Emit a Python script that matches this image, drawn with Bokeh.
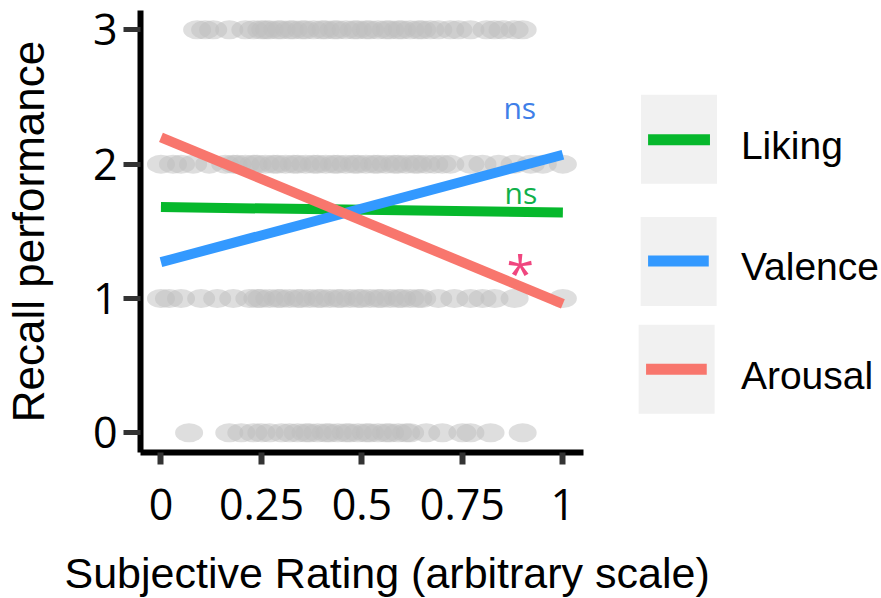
from bokeh.plotting import figure
from bokeh.models import FixedTicker, Range1d, Title
from bokeh.core.properties import value
from bokeh.embed import file_html
from bokeh.resources import INLINE

# ---------------- data ----------------
recall_levels = [3, 2, 1, 0]
rating_recall3 = [0.09, 0.11, 0.13, 0.17, 0.21, 0.23, 0.25, 0.26, 0.27, 0.29, 0.30, 0.32, 0.33,
                  0.35, 0.36, 0.38, 0.40, 0.41, 0.43, 0.44, 0.46, 0.48, 0.49, 0.51, 0.52, 0.54,
                  0.56, 0.57, 0.59, 0.60, 0.62, 0.64, 0.65, 0.67, 0.69, 0.72, 0.74, 0.77, 0.81,
                  0.83, 0.85, 0.88, 0.90]
rating_recall2 = [0.0, 0.03, 0.05, 0.08, 0.12, 0.16, 0.18, 0.19, 0.21, 0.23, 0.24, 0.26, 0.28,
                  0.29, 0.31, 0.33, 0.34, 0.36, 0.38, 0.39, 0.41, 0.43, 0.44, 0.46, 0.48, 0.49,
                  0.51, 0.53, 0.54, 0.56, 0.58, 0.59, 0.61, 0.63, 0.64, 0.66, 0.68, 0.70, 0.72,
                  0.77, 0.80, 0.84, 0.88, 0.92, 0.95, 1.0]
rating_recall1 = [0.0, 0.02, 0.05, 0.10, 0.14, 0.18, 0.22, 0.24, 0.25, 0.27, 0.29, 0.30, 0.32,
                  0.34, 0.35, 0.37, 0.39, 0.40, 0.42, 0.44, 0.45, 0.47, 0.49, 0.50, 0.52, 0.54,
                  0.55, 0.57, 0.59, 0.60, 0.62, 0.64, 0.65, 0.69, 0.73, 0.77, 0.80, 0.83, 0.88,
                  1.0]
rating_recall0 = [0.07, 0.17, 0.20, 0.23, 0.25, 0.27, 0.30, 0.32, 0.34, 0.36, 0.37, 0.39, 0.41,
                  0.42, 0.44, 0.46, 0.47, 0.49, 0.51, 0.52, 0.54, 0.56, 0.57, 0.59, 0.61, 0.62,
                  0.66, 0.70, 0.75, 0.77, 0.82, 0.90]

fit_x = [0.0, 1.0]
liking_fit = [1.68, 1.64]
valence_fit = [1.27, 2.07]
arousal_fit = [2.20, 0.96]

series_names = ["Liking", "Valence", "Arousal"]
series_colors = ["#06b82c", "#3399ff", "#f8766d"]

sig_labels = ["ns", "ns", "*"]
sig_x = [0.852, 0.855, 0.894]
sig_y = [2.353, 1.725, 1.04]
sig_colors = ["#3f7fe8", "#10b04a", "#f0467f"]

x_ticks = [0, 0.25, 0.5, 0.75, 1]
x_tick_labels = ["0", "0.25", "0.5", "0.75", "1"]
y_ticks = [0, 1, 2, 3]

x_label = "Subjective Rating (arbitrary scale)"
y_label = "Recall performance"

# ---------------- figure ----------------
W, H = 880, 597
FRAME_LEFT, FRAME_TOP, FRAME_BOTTOM = 138, 10, 452
X0 = -0.0509
PX_PER_X = 403.0
p = figure(width=W, height=H, title=None,
           x_range=Range1d(X0, X0 + (W - FRAME_LEFT) / PX_PER_X), y_range=Range1d(-0.147, 3.144),
           output_backend="svg", toolbar_location=None,
           min_border_left=FRAME_LEFT, min_border_top=FRAME_TOP,
           min_border_bottom=H - FRAME_BOTTOM, min_border_right=0)
p.outline_line_color = None
p.xgrid.visible = False
p.ygrid.visible = False
p.background_fill_color = "white"
p.border_fill_color = "white"

# scatter of individual trials (grey ellipses)
rows = [rating_recall3, rating_recall2, rating_recall1, rating_recall0]
pts_x, pts_y = [], []
for lvl, xs in zip(recall_levels, rows):
    pts_x.extend(xs)
    pts_y.extend([lvl] * len(xs))
p.ellipse(x=pts_x, y=pts_y, width=28, height=19, width_units="screen", height_units="screen",
          fill_color="#bdbdbd", fill_alpha=0.5, line_color=None)

# regression lines
for ys, c in zip([liking_fit, valence_fit, arousal_fit], series_colors):
    p.line(fit_x, ys, line_color=c, line_width=10, line_cap="butt")

# significance annotations
for t, xx, yy, c in zip(sig_labels, sig_x, sig_y, sig_colors):
    if t == "*":
        p.text(x=[xx], y=[yy], text=[t], text_font=value("Open Sans"), text_font_size=value("50px"),
               text_color=c, text_align="center", text_baseline="alphabetic", y_offset=-20)
    else:
        p.text(x=[xx], y=[yy], text=[t], text_font=value("Open Sans"), text_font_size=value("30px"),
               text_color=c, text_align="left", text_baseline="alphabetic", y_offset=-9)

# manual legend
leg_box_x = [1.289, 1.288, 1.283]
leg_box_y = [2.185, 1.275, 0.472]
leg_line_x0 = [1.212, 1.212, 1.207]
leg_line_x1 = [1.366, 1.363, 1.358]
leg_line_y = [2.181, 1.278, 0.472]
leg_text_x = [1.443, 1.443, 1.443]
leg_text_y = [2.047, 1.152, 0.338]
p.rect(x=leg_box_x, y=leg_box_y, width=76, height=89, width_units="screen", height_units="screen",
       fill_color="#f1f1f1", line_color=None)
p.segment(x0=leg_line_x0, y0=leg_line_y, x1=leg_line_x1, y1=leg_line_y,
          line_color=series_colors, line_width=11, line_cap="butt")
p.text(x=leg_text_x, y=leg_text_y, text=series_names, text_font=value("Liberation Sans"),
       text_font_size=value("39px"), text_color="black", text_baseline="alphabetic", y_offset=-12)

# axes
xa = p.xaxis[0]
xa.bounds = (X0, 1.0509)
xa.ticker = FixedTicker(ticks=x_ticks)
xa.major_label_overrides = {t: l for t, l in zip(x_ticks, x_tick_labels)}
ya = p.yaxis[0]
ya.ticker = FixedTicker(ticks=y_ticks)
for ax in (xa, ya):
    ax.axis_line_color = "black"
    ax.axis_line_width = 6
    ax.major_tick_line_color = "#333333"
    ax.major_tick_in = 0
    ax.minor_tick_line_color = None
    ax.major_label_text_font = "Open Sans"
    ax.major_label_text_font_size = "43px"
    ax.major_label_text_color = "black"
xa.major_tick_out = 12
xa.major_tick_line_width = 6
xa.major_label_standoff = 24
# zero-width, tiny axis label used only as vertical spacing before the x title
xa.axis_label = "\u200b"
xa.axis_label_text_font_size = "2px"
xa.axis_label_standoff = 19
ya.major_tick_out = 17
ya.major_tick_line_width = 5
ya.major_label_standoff = 6
ya.axis_label = y_label
ya.axis_label_text_font = "Liberation Sans"
ya.axis_label_text_font_size = "44px"
ya.axis_label_text_font_style = "normal"
ya.axis_label_text_color = "black"
ya.axis_label_standoff = 37

# x title, shifted left to match the original placement
xt = Title(text=x_label, align="left", offset=62 - FRAME_LEFT, text_font="Liberation Sans",
           text_font_size="43px", text_font_style="normal", text_color="black", standoff=0)
p.add_layout(xt, "below")

open("out.html", "w").write(file_html(p, INLINE))
